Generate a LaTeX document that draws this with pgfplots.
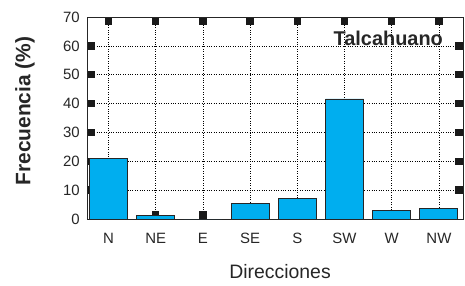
\documentclass[border=0pt]{standalone}
\usepackage{fontspec}
\setmainfont{Liberation Sans}
\usepackage{pgfplots}
\pgfplotsset{compat=1.18}
\definecolor{barblue}{RGB}{0,174,239}
\begin{document}
\begin{tikzpicture}
\useasboundingbox (-87bp,-67bp) rectangle (378bp,219bp);
\begin{axis}[
  at={(0,0)}, anchor=south west,
  scale only axis, width=376bp, height=202bp,
  xmin=-0.455, xmax=7.51, ymin=0, ymax=70,
  xtick={0,...,7},
  xticklabels={N,NE,E,SE,S,SW,W,NW},
  ytick={10,20,...,60},
  extra y ticks={0,70},
  extra y tick style={major tick length=0pt, grid=none},
  grid=major,
  grid style={black, dotted, line width=0.6pt},
  tick align=inside,
  major tick length=8bp,
  tick style={black!90, line width=7.5bp},
  axis line style={line width=0.9pt, black!85},
  /pgf/number format/assume math mode=true,
  ticklabel style={font=\fontsize{15}{17}\selectfont, text=black!85},
  xticklabel style={anchor=center, yshift=-19bp},
  yticklabel style={inner sep=0pt, xshift=-7bp},
  ylabel={\textbf{Frecuencia (\%)}},
  ylabel style={font=\fontsize{21}{24}\selectfont, text=black!85, at={(axis description cs:0,0.5)}, anchor=center, yshift=62bp, xshift=7bp},
  xlabel={Direcciones},
  xlabel style={font=\fontsize{19.5}{22}\selectfont, text=black!85, at={(axis description cs:0.5,0)}, anchor=center, yshift=-53bp, xshift=5bp},
]
\addplot[ybar, bar width=38bp, fill=barblue, draw=black!85, line width=0.9pt]
  coordinates {(0,21.1) (1,1.3) (2,0) (3,5.5) (4,7.0) (5,41.6) (6,2.8) (7,3.5)};
\node[anchor=east, inner sep=0pt, font=\bfseries\fontsize{20}{23}\selectfont, text=black!85] at (rel axis cs:0.947,0.896) {Talcahuano};
\end{axis}
\end{tikzpicture}
\end{document}
